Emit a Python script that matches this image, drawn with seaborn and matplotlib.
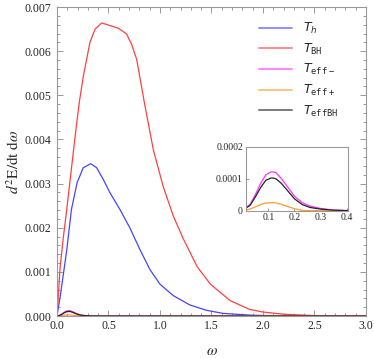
import seaborn as sns
import matplotlib.pyplot as plt
import pandas as pd

# --- data ---
omega_h = [0, 0.035, 0.095, 0.14, 0.195, 0.255, 0.327, 0.385, 0.45, 0.515, 0.612,
           0.709, 0.806, 0.903, 1.0, 1.13, 1.29, 1.45, 1.61, 1.87, 2.2, 3.0]
spec_h = [0, 0.5, 1.5, 2.41, 3.02, 3.36, 3.45, 3.36, 3.09, 2.79, 2.41,
          1.99, 1.5, 1.05, 0.72, 0.46, 0.25, 0.13, 0.06, 0.02, 0.0, 0.0]  # x1e-3

omega_bh = [0, 0.03, 0.06, 0.094, 0.143, 0.18, 0.217, 0.256, 0.32, 0.37, 0.434,
            0.5, 0.595, 0.676, 0.725, 0.773, 0.854, 0.935, 1.03, 1.13, 1.23,
            1.36, 1.49, 1.68, 1.87, 2.0, 2.2, 2.5, 3.0]
spec_bh = [0, 1.1, 1.75, 2.4, 3.4, 4.15, 4.85, 5.44, 6.2, 6.5, 6.64,
           6.59, 6.52, 6.39, 6.15, 5.82, 4.76, 3.77, 2.94, 2.26, 1.73,
           1.12, 0.72, 0.35, 0.15, 0.09, 0.04, 0.01, 0.0]  # x1e-3

omega_s = [0, 0.03, 0.05, 0.07, 0.09, 0.11, 0.12, 0.13, 0.15, 0.17, 0.2, 0.23,
           0.26, 0.3, 0.35, 0.4, 3.0]
spec_minus = [0, 0.2, 0.5, 0.85, 1.12, 1.21, 1.21, 1.18, 1.0, 0.78, 0.45, 0.25,
              0.14, 0.07, 0.02, 0.005, 0]  # x1e-4
spec_plus = [0, 0.05, 0.12, 0.19, 0.24, 0.25, 0.25, 0.24, 0.2, 0.14, 0.06, 0.01,
             0, 0, 0, 0, 0]
spec_effbh = [0, 0.17, 0.43, 0.72, 0.95, 1.02, 1.02, 0.99, 0.85, 0.66, 0.37, 0.19,
              0.1, 0.05, 0.015, 0.003, 0]

labels = [r'$T_h$', r'$T_{\mathtt{BH}}$', r'$T_{\mathtt{eff-}}$',
          r'$T_{\mathtt{eff+}}$', r'$T_{\mathtt{effBH}}$']
colors = ['#4444ff', '#ff4040', '#ff33ff', '#ff9933', '#222222']

series = [
    (omega_h, [v * 1e-3 for v in spec_h]),
    (omega_bh, [v * 1e-3 for v in spec_bh]),
    (omega_s, [v * 1e-4 for v in spec_minus]),
    (omega_s, [v * 1e-4 for v in spec_plus]),
    (omega_s, [v * 1e-4 for v in spec_effbh]),
]
df = pd.concat([pd.DataFrame({'omega': x, 'rate': y, 'T': lab})
                for (x, y), lab in zip(series, labels)], ignore_index=True)
pal = dict(zip(labels, colors))

sns.set_style('ticks')
plt.rcParams['font.family'] = ['Liberation Serif', 'DejaVu Serif']
plt.rcParams['mathtext.fontset'] = 'stix'

fig = plt.figure(figsize=(3.74, 3.58), dpi=100)
ax = fig.add_axes([0.1524, 0.1173, 0.8262, 0.8631])
sns.lineplot(data=df, x='omega', y='rate', hue='T', palette=pal, lw=0.9,
             estimator=None, sort=False, ax=ax)
ax.set_xlim(0, 3)
ax.set_ylim(0, 0.007)
ax.set_xticks([0, 0.5, 1.0, 1.5, 2.0, 2.5, 3.0])
ax.set_xticks([i / 10 for i in range(31)], minor=True)
ax.set_yticks([i / 1000 for i in range(8)])
ax.set_yticks([i / 5000 for i in range(36)], minor=True)
ax.set_xticklabels(['%.1f' % v for v in ax.get_xticks()])
ax.set_yticklabels(['%.3f' % v for v in ax.get_yticks()])
ax.tick_params(which='both', direction='in', top=True, right=True,
               color='#999999', labelsize=8.5, width=0.7)
ax.tick_params(axis='x', pad=3)
ax.tick_params(axis='y', pad=4)
ax.tick_params(which='major', length=4.5)
ax.tick_params(which='minor', length=2.5)
for s in ax.spines.values():
    s.set_color('#999999')
    s.set_linewidth(0.8)
ax.set_xlabel(r'$\omega$', fontsize=11, labelpad=9)
ax.set_ylabel(r'$d^2\mathrm{E/dt\ d}\omega$', fontsize=11, labelpad=2)

leg = ax.legend(loc='upper left', bbox_to_anchor=(0.654, 0.955), frameon=False,
                borderaxespad=0, borderpad=0, handlelength=2.6, handletextpad=0.9,
                labelspacing=0.45, prop={'size': 9, 'math_fontfamily': 'dejavusans'})
for h in leg.get_lines():
    h.set_linewidth(1.4)
    h.set_alpha(0.6)

# inset
ins = fig.add_axes([0.657, 0.4115, 0.2727, 0.1788])
sns.lineplot(data=df[df['T'].isin(labels[2:])], x='omega', y='rate', hue='T',
             palette=pal, lw=0.9, estimator=None, sort=False, legend=False, ax=ins)
ins.set_xlim(0.013, 0.404)
ins.set_ylim(0, 0.0002)
ins.set_xticks([0.1, 0.2, 0.3, 0.4])
ins.set_xticklabels(['0.1', '0.2', '0.3', '0.4'])
ins.set_yticks([0, 0.0001, 0.0002])
ins.set_yticklabels(['0', '0.0001', '0.0002'])
ins.tick_params(direction='in', length=2.5, width=0.7, color='#999999',
                labelsize=7, pad=2)
ins.set_xlabel('')
ins.set_ylabel('')
for s in ins.spines.values():
    s.set_color('#999999')
    s.set_linewidth(0.8)

fig.savefig('out.png', dpi=100)
